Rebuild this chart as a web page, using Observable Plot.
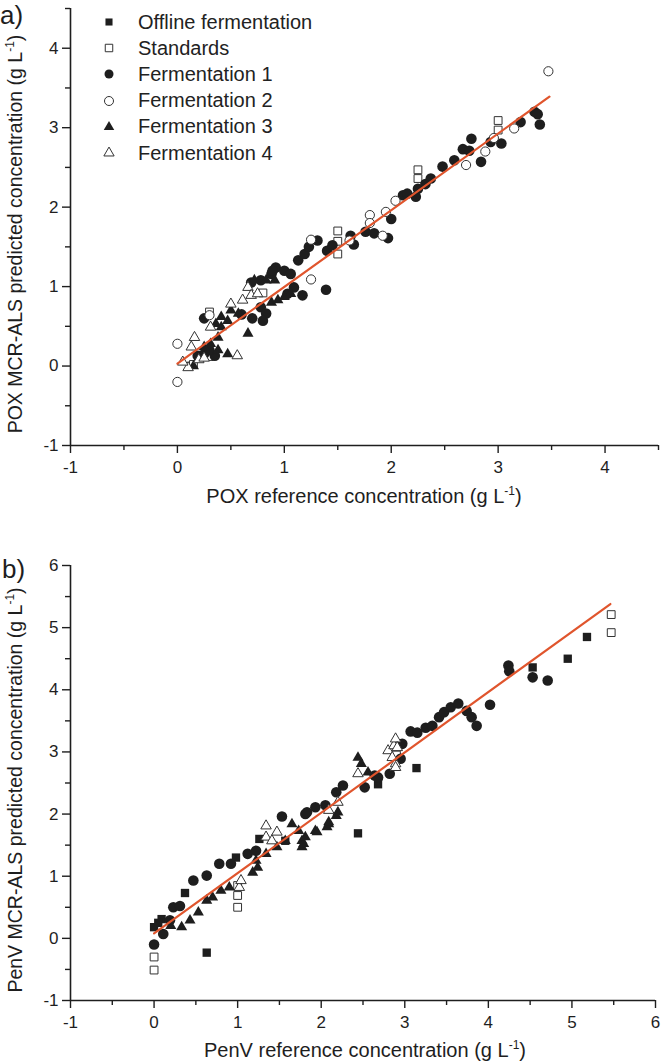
<!DOCTYPE html>
<html><head><meta charset="utf-8">
<script src="https://cdn.jsdelivr.net/npm/d3@7"></script>
<script src="https://cdn.jsdelivr.net/npm/@observablehq/plot@0.6"></script>
<style>
body{margin:0;background:#fff;}
#wrap{position:relative;width:662px;height:1063px;overflow:hidden;font-family:"Liberation Sans",Arial,sans-serif;color:#222}
#wrap > svg{position:absolute;left:0}
#wrap > div.legrow{position:absolute;left:100px;height:20px;display:flex;align-items:center;font-size:20px;white-space:nowrap}
.legrow svg{width:18px;height:18px;margin-right:20px}
</style></head><body><div id="wrap"></div>
<script>
// ---------- data ----------
const seriesNames = ["Offline fermentation","Standards","Fermentation 1","Fermentation 2","Fermentation 3","Fermentation 4"];
const majorTicksA = [-1,0,1,2,3,4];
const minorTicksA = [-0.5,0.5,1.5,2.5,3.5,4.5];
const majorTicksB = [-1,0,1,2,3,4,5,6];
const minorTicksB = [-0.5,0.5,1.5,2.5,3.5,4.5,5.5];
const domainA = [-1,4.5];
const domainB = [-1,6];

// Panel a (POX): [reference, predicted]
const aOffline = [];
const aStandards = [[0.3,0.68],[0.8,0.92],[1.5,1.70],[1.5,1.57],[1.5,1.41],[2.25,2.47],[2.25,2.36],[3.0,3.09],[3.0,2.97],[0.15,0.02],[0.3,0.12]];
const aFerm1 = [[0.19,0.13],[0.25,0.15],[0.35,0.13],[0.25,0.6],[0.3,0.2],
  [0.69,1.05],[0.78,1.08],[0.88,1.16],[0.92,1.24],[1.0,1.2],[1.06,1.16],[0.89,1.2],
  [0.78,0.74],[0.83,0.66],[0.8,0.57],[0.7,0.6],[0.6,0.65],
  [1.09,0.99],[1.03,0.91],[1.17,0.89],[1.39,0.96],
  [1.13,1.33],[1.19,1.41],[1.23,1.5],[1.31,1.58],[1.4,1.45],[1.45,1.52],
  [1.62,1.64],[1.65,1.53],[1.76,1.69],[1.84,1.67],[1.97,1.61],[2.0,1.85],
  [2.11,2.15],[2.15,2.17],[2.23,2.13],[2.25,2.23],[2.32,2.29],[2.37,2.36],
  [2.48,2.51],[2.59,2.59],[2.67,2.73],[2.73,2.71],[2.75,2.86],[2.84,2.57],
  [2.93,2.82],[3.03,2.8],[3.21,3.07],[3.34,3.2],[3.37,3.17],[3.39,3.04]];
const aFerm2 = [[0.0,0.28],[0.0,-0.2],[0.3,0.64],[1.25,1.59],[1.25,1.09],[1.61,1.58],[1.8,1.9],[1.8,1.8],[1.92,1.64],[1.95,1.94],[2.04,2.08],[2.7,2.53],[2.88,2.7],[2.96,2.87],[3.15,2.99],[3.47,3.71]];
const aFerm3 = [[0.25,0.24],[0.31,0.28],[0.38,0.36],[0.38,0.2],[0.47,0.15],[0.41,0.49],[0.36,0.53],[0.41,0.62],[0.47,0.57],[0.5,0.7],[0.57,0.66],[0.66,0.41],[0.72,1.08],[0.83,1.08],[0.91,1.08],[0.88,0.8],[0.94,0.83],[1.0,0.87],[1.06,0.91],[0.2,0.1],[0.15,0.0]];
const aFerm4 = [[0.1,-0.02],[0.13,0.24],[0.16,0.36],[0.2,0.08],[0.25,0.1],[0.31,0.49],[0.5,0.78],[0.61,0.83],[0.66,0.99],[0.69,0.89],[0.75,0.91],[0.56,0.13],[0.05,0.05]];
const aFit = [[0,0.03],[3.48,3.39]];

// Panel b (PenV): [reference, predicted]
const bOffline = [[0,0.18],[0.09,0.31],[0.37,0.73],[0.63,-0.23],[0.98,1.3],[1.26,1.6],[1.57,1.57],[2.44,1.69],[2.68,2.48],[3.14,2.74],[4.53,4.36],[4.95,4.5],[5.18,4.85],[0.05,0.25]];
const bStandards = [[0,-0.3],[0,-0.51],[1,0.5],[1,0.69],[1,0.85],[5.47,5.21],[5.47,4.92],[2.9,2.95]];
const bFerm1 = [[0,-0.1],[0.11,0.07],[0.19,0.29],[0.23,0.5],[0.31,0.52],[0.47,0.93],[0.63,1.01],[0.78,1.2],[0.92,1.2],[1.12,1.36],[1.22,1.41],[1.53,1.96],[1.81,2.0],[1.83,2.03],[1.93,2.11],[2.05,2.14],[2.18,2.35],[2.26,2.46],[2.52,2.43],[2.64,2.62],[2.68,2.59],[2.82,2.65],[2.95,2.89],[2.97,3.13],[3.07,3.33],[3.15,3.31],[3.25,3.39],[3.33,3.42],[3.41,3.56],[3.47,3.64],[3.55,3.72],[3.64,3.78],[3.74,3.66],[3.8,3.56],[3.86,3.42],[4.02,3.76],[4.24,4.39],[4.25,4.3],[4.53,4.2],[4.71,4.15]];
const bFerm2 = [];
const bFerm3 = [[0.33,0.18],[0.43,0.29],[0.53,0.42],[0.63,0.61],[0.7,0.66],[0.8,0.77],[0.9,0.82],[1.18,1.06],[1.24,1.14],[1.22,1.25],[1.34,1.36],[1.47,1.47],[1.57,1.57],[1.65,1.84],[1.73,1.73],[1.77,1.57],[1.77,1.47],[1.79,1.52],[1.81,1.63],[1.93,1.73],[1.95,1.71],[2.07,1.79],[2.09,1.84],[2.09,1.87],[2.18,1.97],[2.2,2.03],[2.44,2.91],[2.48,2.81],[2.56,2.67],[0.2,0.2]];
const bFerm4 = [[1.02,0.82],[1.04,0.93],[1.34,1.81],[1.34,1.63],[1.41,1.57],[1.47,1.71],[2.09,2.06],[2.2,2.19],[2.44,2.65],[2.8,3.02],[2.87,3.1],[2.89,2.81],[2.89,3.21],[2.85,2.91],[2.91,3.07],[2.89,2.75]];
const bFit = [[0,0.08],[5.46,5.38]];

// ---------- styles ----------
const ink = "#1e1e1e";
const fitColor = "#e0552d";
const symStyles = [
  {symbol:"square", r:4.7, fill:ink, stroke:"none"},
  {symbol:"square", r:4.4, fill:"white", stroke:"#333", strokeWidth:1},
  {symbol:"circle", r:5.3, fill:ink, stroke:"none"},
  {symbol:"circle", r:4.6, fill:"white", stroke:"#333", strokeWidth:1},
  {symbol:"triangle", r:4.1, fill:ink, stroke:"none"},
  {symbol:"triangle", r:3.9, fill:"white", stroke:"#333", strokeWidth:1}
];

function panel(series, fit, domain, major, minor, opts) {
  const marks = [
    Plot.ruleX([domain[0]], {stroke: ink, strokeWidth: 1.6}),
    Plot.ruleY([domain[0]], {stroke: ink, strokeWidth: 1.6}),
    Plot.axisX({ticks: major, tickSize: 8, tickPadding: 7, fontSize: 17, label: null, color: ink, strokeWidth: 1.4, tickFormat: d => String(d)}),
    Plot.axisX({ticks: minor, tickSize: 5, label: null, color: ink, strokeWidth: 1.4, tickFormat: () => ""}),
    Plot.axisY({ticks: major, tickSize: 8, tickPadding: 4, fontSize: 17, label: null, color: ink, strokeWidth: 1.4, tickFormat: d => String(d)}),
    Plot.axisY({ticks: minor, tickSize: 5, label: null, color: ink, strokeWidth: 1.4, tickFormat: () => ""})
  ];
  series.forEach((s, i) => {
    marks.push(Plot.dot(s, {x: d => d[0], y: d => d[1], ...symStyles[i]}));
  });
  marks.push(Plot.line(fit, {x: d => d[0], y: d => d[1], stroke: fitColor, strokeWidth: 2.2}));
  return Plot.plot({
    width: 662, height: opts.height,
    marginTop: opts.mt, marginBottom: opts.mb, marginLeft: 70, marginRight: opts.mr,
    x: {domain},
    y: {domain},
    style: {fontFamily: '"Liberation Sans", Arial, sans-serif', fontSize: "17px", color: ink, background: "transparent", overflow: "visible"},
    marks
  });
}

const wrap = document.getElementById("wrap");
const pa = panel([aOffline,aStandards,aFerm1,aFerm2,aFerm3,aFerm4], aFit, domainA, majorTicksA, minorTicksA, {height: 520, mt: 8, mb: 75, mr: 4});
pa.style.top = "0px";
wrap.appendChild(pa);
const pb = panel([bOffline,bStandards,bFerm1,bFerm2,bFerm3,bFerm4], bFit, domainB, majorTicksB, minorTicksB, {height: 523, mt: 25, mb: 63, mr: 7});
pb.style.top = "540px";
wrap.appendChild(pb);

// ---------- titles ----------
const ov = d3.select(wrap).append("svg").attr("width", 662).attr("height", 1063)
  .style("top", "0px").style("pointer-events", "none")
  .attr("font-family", '"Liberation Sans", Arial, sans-serif').attr("fill", ink);
function unitTitle(sel, prefix) {
  sel.append("tspan").text(prefix + " (g L");
  sel.append("tspan").attr("dy", -8).attr("font-size", 12).text("-1");
  sel.append("tspan").attr("dy", 8).text(")");
}
ov.append("text").attr("x", 0).attr("y", 24).attr("font-size", 26).text("a)");
ov.append("text").attr("x", 2).attr("y", 578).attr("font-size", 26).text("b)");
unitTitle(ov.append("text").attr("x", 364).attr("y", 503).attr("font-size", 20).attr("text-anchor", "middle"), "POX reference concentration");
unitTitle(ov.append("text").attr("x", 365).attr("y", 1057).attr("font-size", 20).attr("text-anchor", "middle"), "PenV reference concentration");
unitTitle(ov.append("text").attr("transform", "translate(22,234) rotate(-90)").attr("font-size", 19.5).attr("text-anchor", "middle"), "POX MCR-ALS predicted concentration");
unitTitle(ov.append("text").attr("transform", "translate(22,790) rotate(-90)").attr("font-size", 19.5).attr("text-anchor", "middle"), "PenV MCR-ALS predicted concentration");

// ---------- legend ----------
const legendSize = [
  {symbol: d3.symbolSquare, size: 50},
  {symbol: d3.symbolSquare, size: 56},
  {symbol: d3.symbolCircle, size: 64},
  {symbol: d3.symbolCircle, size: 64},
  {symbol: d3.symbolTriangle, size: 48},
  {symbol: d3.symbolTriangle, size: 46}
];
seriesNames.forEach((name, i) => {
  const row = document.createElement("div");
  row.className = "legrow";
  row.style.left = "100px";
  row.style.top = (12 + i * 26.2) + "px";
  const s = d3.create("svg").attr("viewBox", "-9 -9 18 18");
  s.append("path").attr("d", d3.symbol(legendSize[i].symbol, legendSize[i].size)())
    .attr("fill", symStyles[i].fill).attr("stroke", symStyles[i].stroke === "none" ? null : symStyles[i].stroke).attr("stroke-width", 1);
  row.appendChild(s.node());
  const t = document.createElement("span");
  t.textContent = name;
  row.appendChild(t);
  wrap.appendChild(row);
});
</script></body></html>
